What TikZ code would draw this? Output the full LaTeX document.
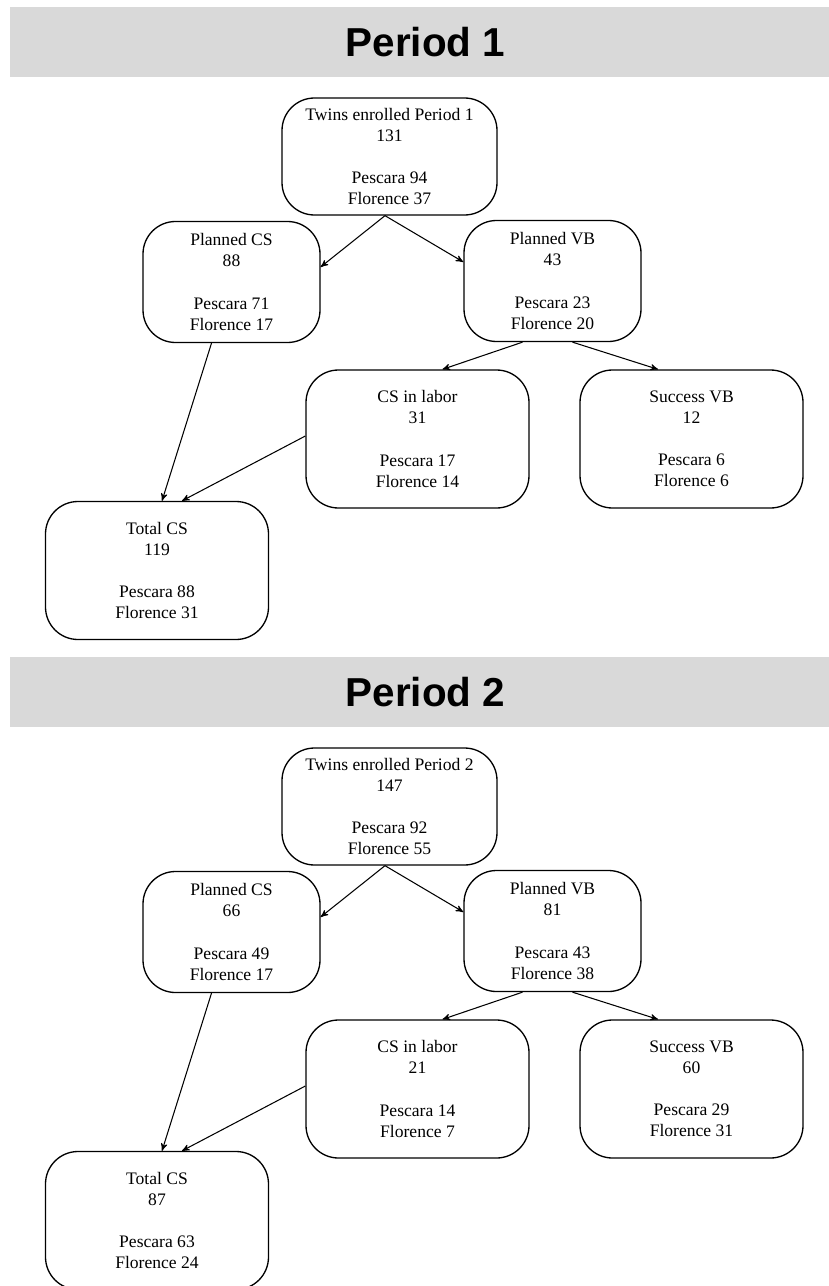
\documentclass[tikz,border=0pt]{standalone}
\usepackage{fontspec}
\setmainfont{Liberation Serif}
\newfontfamily\headfont{Liberation Sans}
\usetikzlibrary{arrows}
\definecolor{bargray}{HTML}{D9D9D9}

\begin{document}
\begin{tikzpicture}[>=stealth',line width=0.6pt,
    box/.style={draw,rounded corners=0.65cm,line width=0.75pt,align=center,inner sep=2pt,
      font=\fontsize{10}{12}\selectfont},
    topbox/.style={box,minimum width=4.3cm,minimum height=2.34cm},
    midbox/.style={box,minimum width=3.54cm,minimum height=2.42cm},
    lowbox/.style={box,minimum width=4.46cm,minimum height=2.76cm},
    header/.style={fill=bargray,minimum width=16.38cm,minimum height=1.4cm,
      font=\headfont\bfseries\fontsize{23}{28}\selectfont}]
    \useasboundingbox (0,0) rectangle (16.58,-25.72);

    % Period 1
    \node[header] (hdr1) at (8.39,-0.84) {\hspace*{0.24cm}Period 1};
    \node[topbox] (t1)   at (7.79,-3.13)  {Twins enrolled Period 1\\131\\[12pt]Pescara 94\\Florence 37};
    \node[midbox] (c1)   at (4.63,-5.64)  {Planned CS\\88\\[12pt]Pescara 71\\Florence 17};
    \node[midbox] (v1)   at (11.05,-5.62) {Planned VB\\43\\[12pt]Pescara 23\\Florence 20};
    \node[lowbox] (l1)   at (8.35,-8.78)  {CS in labor\\31\\[12pt]Pescara 17\\Florence 14};
    \node[lowbox] (s1)   at (13.83,-8.78) {Success VB\\12\\[12pt]Pescara 6\\Florence 6};
    \node[lowbox] (tot1) at (3.14,-11.41) {Total CS\\119\\[12pt]Pescara 88\\Florence 31};

    \path[->] ([xshift=-0.09cm]t1.south) edge ([yshift=0.3cm]c1.east);
    \path[->] ([xshift=-0.09cm]t1.south) edge ([yshift=0.38cm]v1.west);
    \path[->] ([xshift=-0.6cm]v1.south) edge ([xshift=0.5cm]l1.north);
    \path[->] ([xshift=0.4cm]v1.south) edge ([xshift=-0.67cm]s1.north);
    \path[->] ([xshift=-0.4cm]c1.south) edge ([xshift=0.1cm]tot1.north);
    \path[->] ([yshift=0.06cm]l1.west) edge ([xshift=0.5cm]tot1.north);

    % Period 2
    \node[header] (hdr2) at (8.39,-13.84) {\hspace*{0.24cm}Period 2};
    \node[topbox] (t2)   at (7.79,-16.13)  {Twins enrolled Period 2\\147\\[12pt]Pescara 92\\Florence 55};
    \node[midbox] (c2)   at (4.63,-18.64)  {Planned CS\\66\\[12pt]Pescara 49\\Florence 17};
    \node[midbox] (v2)   at (11.05,-18.62) {Planned VB\\81\\[12pt]Pescara 43\\Florence 38};
    \node[lowbox] (l2)   at (8.35,-21.78)  {CS in labor\\21\\[12pt]Pescara 14\\Florence 7};
    \node[lowbox] (s2)   at (13.83,-21.78) {Success VB\\60\\[12pt]Pescara 29\\Florence 31};
    \node[lowbox] (tot2) at (3.14,-24.41)  {Total CS\\87\\[12pt]Pescara 63\\Florence 24};

    \path[->] ([xshift=-0.09cm]t2.south) edge ([yshift=0.3cm]c2.east);
    \path[->] ([xshift=-0.09cm]t2.south) edge ([yshift=0.38cm]v2.west);
    \path[->] ([xshift=-0.6cm]v2.south) edge ([xshift=0.5cm]l2.north);
    \path[->] ([xshift=0.4cm]v2.south) edge ([xshift=-0.67cm]s2.north);
    \path[->] ([xshift=-0.4cm]c2.south) edge ([xshift=0.1cm]tot2.north);
    \path[->] ([yshift=0.06cm]l2.west) edge ([xshift=0.5cm]tot2.north);
\end{tikzpicture}
\end{document}
